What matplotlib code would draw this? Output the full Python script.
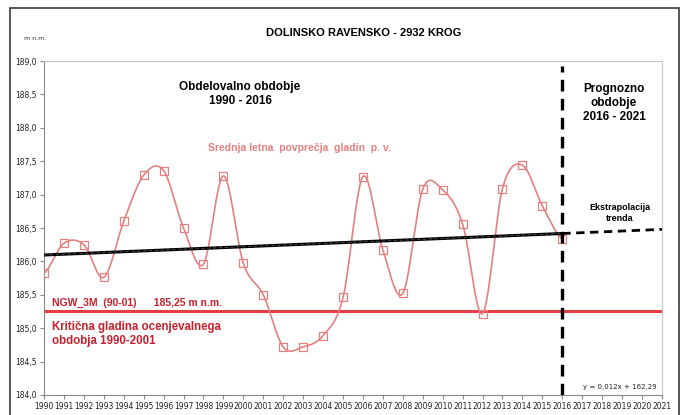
import numpy as np
import matplotlib
matplotlib.use('Agg')
import matplotlib.pyplot as plt
from matplotlib.patches import Rectangle

# Podatki: srednje letne gladine podzemne vode (m n.m.)
years = np.arange(1990, 2017)
levels = [185.82, 186.27, 186.25, 185.76, 186.60, 187.29, 187.36, 186.50, 185.96,
          187.28, 185.97, 185.50, 184.72, 184.72, 184.89, 185.46, 187.27, 186.17,
          185.52, 187.08, 187.07, 186.56, 185.22, 187.09, 187.44, 186.83, 186.33]
ngw_level = 185.25
forecast_end = 2021
year_ticks = list(range(1990, 2022))
y_ticks = [184.0, 184.5, 185.0, 185.5, 186.0, 186.5, 187.0, 187.5, 188.0, 188.5, 189.0]

pink = '#e58080'
red = '#e63c44'
dark_red = '#c8202c'
W, H = 684, 415


def smooth(x, y, n=30):
    # glajenje kot v Excelu (Catmull-Rom)
    x = np.asarray(x, float)
    y = np.asarray(y, float)
    px = np.concatenate([[2 * x[0] - x[1]], x, [2 * x[-1] - x[-2]]])
    py = np.concatenate([[y[0]], y, [y[-1]]])
    xs, ys = [], []
    t = np.linspace(0, 1, n, endpoint=False)
    for i in range(1, len(px) - 2):
        for arr, out in ((px, xs), (py, ys)):
            p0, p1, p2, p3 = arr[i - 1], arr[i], arr[i + 1], arr[i + 2]
            out.extend(0.5 * ((2 * p1) + (-p0 + p2) * t
                              + (2 * p0 - 5 * p1 + 4 * p2 - p3) * t ** 2
                              + (-p0 + 3 * p1 - 3 * p2 + p3) * t ** 3))
    xs.append(x[-1])
    ys.append(y[-1])
    return np.array(xs), np.array(ys)


def label(px, py, s, **kw):
    # položaj v pikslih od zgornjega levega kota
    fig.text(px / W, 1 - py / H, s, **kw)


fig = plt.figure(figsize=(6.84, 4.15), dpi=100)
ax = fig.add_axes([0.0643, 0.0482, 0.9035, 0.8048])

# okvir slike
fig.patches.append(Rectangle((10 / W, -0.05), 669 / W, 1 - 8 / H + 0.05,
                             transform=fig.transFigure, fill=False,
                             edgecolor='#3a3a3a', linewidth=1.2))

# srednje letne gladine
sx, sy = smooth(years, levels)
ax.plot(sx, sy, color=pink, linewidth=1.2, zorder=3)
ax.plot(years, levels, linestyle='none', marker='s', markersize=5.5,
        markerfacecolor='none', markeredgecolor=pink, markeredgewidth=0.9, zorder=4)

# kritična gladina
ax.axhline(ngw_level, color=red, linewidth=2.2, zorder=2)

# linearni trend in ekstrapolacija
k, n0 = np.polyfit(years, levels, 1)
tx = np.array([years[0], years[-1]])
ax.plot(tx, k * tx + n0, color='black', linewidth=2.2, zorder=5)
ax.plot(tx, k * tx + n0, color='#555555', linewidth=0.6, linestyle=(0, (4, 3)), zorder=6)
ex = np.array([years[-1], forecast_end])
ax.plot(ex, k * ex + n0, color='black', linewidth=2, linestyle=(0, (3, 2)), zorder=5)

# meja obdobij
ax.axvline(years[-1], ymin=0, ymax=0.985, color='black', linewidth=2.4,
           linestyle=(0, (3.5, 2.2)), zorder=6)

ax.set_xlim(1990, 2021)
ax.set_ylim(184.0, 189.0)
ax.set_xticks(year_ticks)
ax.set_xticklabels([str(y) for y in year_ticks], fontsize=5.5, color='#222222')
ax.set_yticks(y_ticks)
ax.set_yticklabels([f'{v:.1f}'.replace('.', ',') for v in y_ticks],
                   fontsize=5.5, color='#222222')
ax.tick_params(axis='both', length=3, width=0.8, color='#888888', pad=2)
for side in ['left', 'bottom']:
    ax.spines[side].set_color('#888888')
for side in ['top', 'right']:
    ax.spines[side].set_color('#c8c8c8')

# besedila
label(364, 33, 'DOLINSKO RAVENSKO - 2932 KROG', ha='center', va='center',
      fontsize=8, fontweight='bold', family='Liberation Sans')
label(24, 38, 'm n.m.', ha='left', va='center', fontsize=4.5, color='#333333')
label(240, 94, 'Obdelovalno obdobje\n1990 - 2016', ha='center', va='center',
      fontsize=8.5, fontweight='bold', linespacing=1.25, family='Liberation Sans')
label(614, 103, 'Prognozno\nobdobje\n2016 - 2021', ha='center', va='center',
      fontsize=8.5, fontweight='bold', linespacing=1.2, family='Liberation Sans')
label(620, 213, 'Ekstrapolacija\ntrenda', ha='center', va='center',
      fontsize=6.5, fontweight='bold', linespacing=1.25, family='Liberation Sans')
label(300, 148, 'Srednja letna  povprečja  gladin  p. v.', ha='center', va='center',
      fontsize=7.5, fontweight='bold', color=pink, family='Liberation Sans')
label(52, 303, 'NGW_3M  (90-01)      185,25 m n.m.', ha='left', va='center',
      fontsize=7.5, fontweight='bold', color=dark_red, family='Liberation Sans')
label(52, 334, 'Kritična gladina ocenjevalnega\nobdobja 1990-2001', ha='left',
      va='center', fontsize=8.3, fontweight='bold', color=dark_red,
      linespacing=1.25, family='Liberation Sans')
label(620, 387, 'y = 0,012x + 162,29', ha='center', va='center', fontsize=5,
      color='#222222')

plt.savefig('out.png', dpi=100)
